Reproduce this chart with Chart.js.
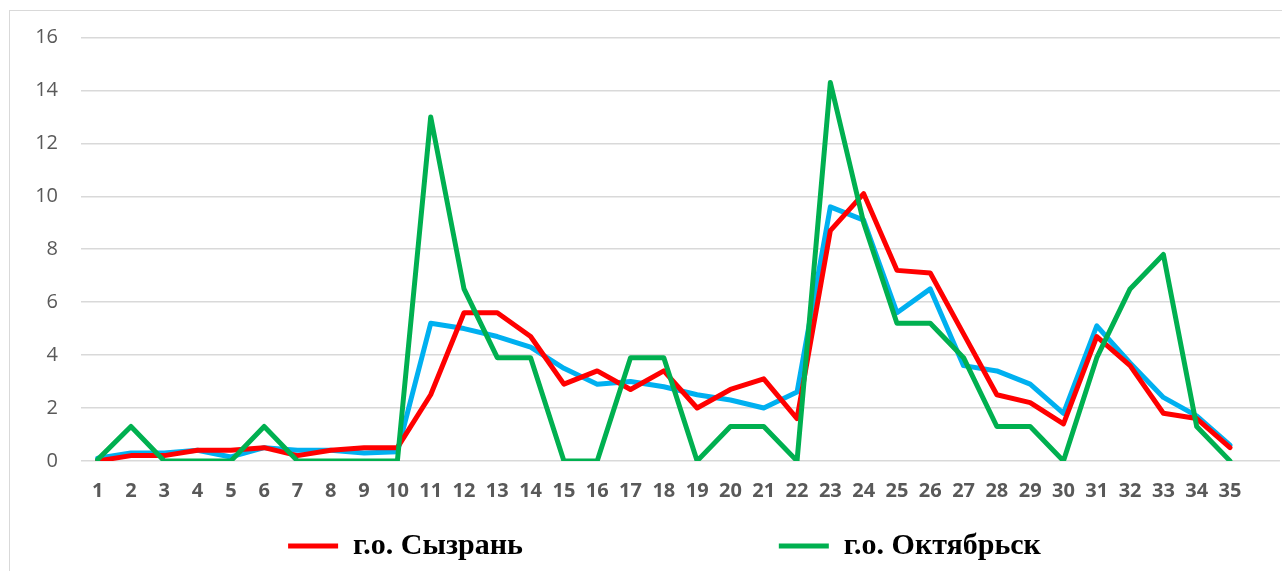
<!DOCTYPE html>
<html><head><meta charset="utf-8">
<script src="https://cdn.jsdelivr.net/npm/chart.js@4.4.1/dist/chart.umd.min.js"></script>
<style>
html,body{margin:0;padding:0;background:#fff;overflow:hidden;width:1282px;height:571px}
#frame{position:absolute;left:9px;top:10px;width:1400px;height:700px;border:1.5px solid #d9d9d9;pointer-events:none}
#wrap{position:absolute;left:0;top:0;width:1282px;height:571px}
</style></head><body>
<div id="frame"></div>
<div id="wrap"><canvas id="c" width="1282" height="571"></canvas></div>
<script>
const categories = ['1','2','3','4','5','6','7','8','9','10','11','12','13','14','15','16','17','18','19','20','21','22','23','24','25','26','27','28','29','30','31','32','33','34','35',''];
const syzran = [0,0.2,0.2,0.4,0.4,0.5,0.2,0.4,0.5,0.5,2.5,5.6,5.6,4.7,2.9,3.4,2.7,3.4,2.0,2.7,3.1,1.6,8.7,10.1,7.2,7.1,4.8,2.5,2.2,1.4,4.7,3.6,1.8,1.6,0.5,null];
const region = [0.1,0.3,0.3,0.4,0.15,0.5,0.4,0.4,0.3,0.35,5.2,5.0,4.7,4.3,3.5,2.9,3.0,2.8,2.5,2.3,2.0,2.6,9.6,9.1,5.6,6.5,3.6,3.4,2.9,1.8,5.1,3.7,2.4,1.7,0.6,null];
const oktyabrsk = [0.05,1.3,0,0,0,1.3,0,0,0,0,13.0,6.5,3.9,3.9,0,0,3.9,3.9,0,1.3,1.3,0,14.3,9.0,5.2,5.2,3.9,1.3,1.3,0,3.9,6.5,7.8,1.3,0,null];
const seriesNames = ['г.о. Сызрань', 'Самарская область', 'г.о. Октябрьск'];
const yMin = 0, yMax = 16, yStep = 2;

const RED = '#FF0000', BLUE = '#00B0F0', GREEN = '#00B050';
const lineCommon = {borderWidth: 5, pointRadius: 0, pointHoverRadius: 0, tension: 0, fill: false,
  borderJoinStyle: 'round', borderCapStyle: 'round'};

// nudges the built-in legend row horizontally (Excel placed it slightly right of centre)
const legendShift = {
  id: 'legendShift',
  afterLayout(chart) {
    if (chart.legend) { chart.legend.left += 7; chart.legend.right += 7; }
  }
};

new Chart(document.getElementById('c'), {
  type: 'line',
  data: {
    labels: categories,
    datasets: [
      Object.assign({label: seriesNames[0], data: syzran, borderColor: RED, backgroundColor: RED, order: 2}, lineCommon),
      Object.assign({label: seriesNames[1], data: region, borderColor: BLUE, backgroundColor: BLUE, order: 3}, lineCommon),
      Object.assign({label: seriesNames[2], data: oktyabrsk, borderColor: GREEN, backgroundColor: GREEN, order: 1}, lineCommon)
    ]
  },
  plugins: [legendShift],
  options: {
    responsive: false,
    animation: false,
    devicePixelRatio: 1,
    layout: {padding: {top: 37.5, left: 33, right: 0, bottom: 0}},
    plugins: {
      tooltip: {enabled: false},
      legend: {
        position: 'bottom',
        align: 'center',
        labels: {
          boxWidth: 50, boxHeight: 5, padding: 10,
          useBorderRadius: true, borderRadius: 2.5,
          color: '#000000',
          font: {family: 'Liberation Serif', size: 30, weight: 'bold'},
          generateLabels(chart) {
            const ds = chart.data.datasets;
            return [
              {text: ds[0].label, fillStyle: ds[0].borderColor, strokeStyle: ds[0].borderColor, lineWidth: 0, hidden: false, datasetIndex: 0, fontColor: '#000'},
              {text: '\u2003\u2003\u2003\u2003\u2003\u2002\u2009', fillStyle: 'rgba(0,0,0,0)', strokeStyle: 'rgba(0,0,0,0)', lineWidth: 0, hidden: false, datasetIndex: 1, fontColor: '#000'},
              {text: ds[2].label, fillStyle: ds[2].borderColor, strokeStyle: ds[2].borderColor, lineWidth: 0, hidden: false, datasetIndex: 2, fontColor: '#000'}
            ];
          }
        }
      }
    },
    scales: {
      x: {
        type: 'category', offset: true,
        grid: {display: false, drawTicks: false},
        border: {display: false},
        ticks: {color: '#595959', font: {family: 'Open Sans', size: 20, weight: 'bold'}, padding: 18.7, maxRotation: 0, autoSkip: false},
        afterFit(s) { s.height = 60.1; }
      },
      y: {
        min: yMin, max: yMax,
        ticks: {stepSize: yStep, color: '#595959', font: {family: 'Open Sans', size: 20}, padding: 23},
        grid: {color: '#d9d9d9', lineWidth: 1.5, drawTicks: false},
        border: {display: false},
        afterFit(s) { s.width = 48; }
      }
    }
  }
});
</script>
</body></html>
